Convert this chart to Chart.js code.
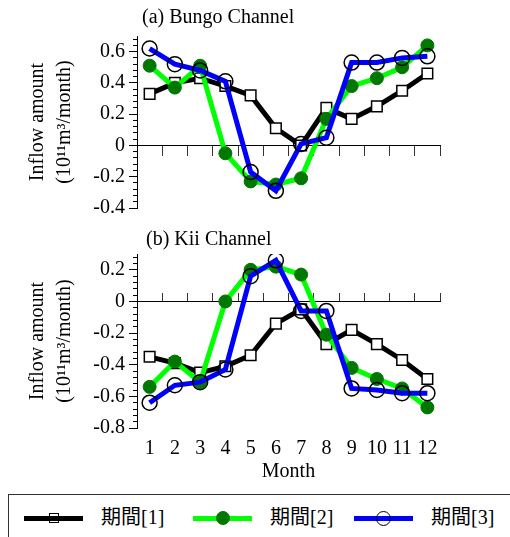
<!DOCTYPE html>
<html>
<head>
<meta charset="utf-8">
<script src="https://cdn.jsdelivr.net/npm/chart.js@4.4.1/dist/chart.umd.min.js"></script>
<style>
  body { margin: 0; background: #fff; width: 510px; height: 537px; overflow: hidden; position: relative; }
  canvas { position: absolute; left: 0; }
  #legend { position: absolute; left: 8px; top: 494px; width: 530px; height: 60px; border: 1px solid #333; }
  .ln { position: absolute; height: 5px; }
  .mk { position: absolute; box-sizing: border-box; }
  .lt { position: absolute; font: 20px "Liberation Serif", "Noto Sans CJK JP", serif; line-height: 20px; color: #000; }
</style>
</head>
<body>
<canvas id="bungoChart" width="510" height="228" style="top:0"></canvas>
<canvas id="kiiChart" width="510" height="262" style="top:228px"></canvas>
<div id="legend"></div>
<script>
// data
var months = ['1', '2', '3', '4', '5', '6', '7', '8', '9', '10', '11', '12'];
var seriesNames = ['期間[1]', '期間[2]', '期間[3]'];

var bungoP1 = [0.33, 0.40, 0.43, 0.38, 0.32, 0.11, 0.00, 0.24, 0.17, 0.25, 0.35, 0.46];
var bungoP2 = [0.51, 0.37, 0.51, -0.05, -0.23, -0.25, -0.21, 0.17, 0.38, 0.43, 0.50, 0.64];
var bungoP3 = [0.62, 0.52, 0.48, 0.41, -0.17, -0.29, 0.01, 0.05, 0.53, 0.53, 0.56, 0.57];

var kiiP1 = [-0.35, -0.39, -0.45, -0.41, -0.34, -0.14, -0.05, -0.27, -0.18, -0.27, -0.37, -0.49];
var kiiP2 = [-0.54, -0.38, -0.51, 0.00, 0.20, 0.22, 0.17, -0.21, -0.42, -0.49, -0.55, -0.67];
var kiiP3 = [-0.64, -0.53, -0.51, -0.43, 0.16, 0.26, -0.06, -0.06, -0.55, -0.56, -0.58, -0.58];

var FONT = 'Liberation Serif';

// panel heading drawn just above the plot
var panelLabel = {
  id: 'panelLabel',
  afterDraw: function (chart, args, opts) {
    var ctx = chart.ctx;
    ctx.save();
    ctx.font = '20px "' + FONT + '"';
    ctx.fillStyle = '#000';
    ctx.textBaseline = 'middle';
    ctx.fillText(opts.text, chart.chartArea.left + opts.dx, chart.chartArea.top - opts.dy);
    ctx.restore();
  }
};

// ticks on every multiple of step inside the axis range (no extra tick at min/max)
function stepTicks(step) {
  return function (scale) {
    var lo = Math.ceil(scale.min / step - 1e-6);
    var hi = Math.floor(scale.max / step + 1e-6);
    var ticks = [];
    for (var k = lo; k <= hi; k++) ticks.push({ value: Math.round(k * step * 1000) / 1000 });
    scale.ticks = ticks;
  };
}

function makeDatasets(p1, p2, p3) {
  return [{
    label: seriesNames[0], data: p1, order: 2,
    borderColor: '#000', borderWidth: 5,
    pointStyle: 'rect', pointRadius: 7.5,
    pointBackgroundColor: '#fff', pointBorderColor: '#000', pointBorderWidth: 1.5
  }, {
    label: seriesNames[1], data: p2, order: 1,
    borderColor: '#00ff00', borderWidth: 5,
    pointStyle: 'circle', pointRadius: 6.5,
    pointBackgroundColor: '#007800', pointBorderColor: '#007800', pointBorderWidth: 1
  }, {
    label: seriesNames[2], data: p3, order: 0,
    borderColor: '#0000ff', borderWidth: 5,
    pointStyle: 'circle', pointRadius: 7.5,
    pointBackgroundColor: 'rgba(0,0,0,0)', pointBorderColor: '#000', pointBorderWidth: 1.5
  }];
}

function makeScales(yMin, yMax, tickLen, showMonths) {
  var scales = {
    x: {
      type: 'category', position: { y: 0 }, offset: true,
      ticks: { display: false },
      grid: { display: true, drawOnChartArea: false, offset: true, drawTicks: true, tickLength: tickLen, tickColor: '#333', tickWidth: 1 },
      border: { display: true, color: '#000', width: 1 }
    },
    y: {
      type: 'linear', position: 'left', min: yMin, max: yMax,
      afterBuildTicks: stepTicks(0.2),
      afterFit: function (s) { s.width = 137; },
      ticks: { autoSkip: false, color: '#000', padding: 4, font: { family: FONT, size: 20 } },
      grid: { drawOnChartArea: false, tickLength: 8, tickColor: '#000', tickWidth: 1 },
      border: { display: true, color: '#000', width: 1 },
      title: {
        display: true, text: ['Inflow amount', '(10¹¹m³/month)'], color: '#000',
        font: { family: FONT, size: 20, lineHeight: 1.35 }, padding: { top: 24, bottom: 0 }
      }
    },
    ym: {
      type: 'linear', position: { x: -0.5 }, min: yMin, max: yMax,
      afterBuildTicks: stepTicks(0.04),
      ticks: { autoSkip: false, display: false },
      grid: { drawOnChartArea: false, tickLength: 4, tickColor: '#000', tickWidth: 1 },
      border: { display: false }
    }
  };
  if (showMonths) {
    scales.xl = {
      type: 'category', position: 'bottom', offset: true,
      grid: { display: false, drawTicks: false },
      border: { display: false },
      ticks: { autoSkip: false, maxRotation: 0, color: '#000', padding: 9, font: { family: FONT, size: 20 } },
      title: { display: true, text: 'Month', color: '#000', padding: 0, font: { family: FONT, size: 20, lineHeight: 0.2 } }
    };
  }
  return scales;
}

function makeChart(id, p1, p2, p3, yMin, yMax, tickLen, showMonths, heading, pad, dx, dy) {
  return new Chart(document.getElementById(id).getContext('2d'), {
    type: 'line',
    data: { labels: months, datasets: makeDatasets(p1, p2, p3) },
    options: {
      responsive: false,
      animation: false,
      layout: { padding: pad },
      elements: { line: { tension: 0 } },
      scales: makeScales(yMin, yMax, tickLen, showMonths),
      plugins: {
        legend: { display: false },
        tooltip: { enabled: false },
        panelLabel: { text: heading, dx: dx, dy: dy }
      }
    },
    plugins: [panelLabel]
  });
}

// (a) Bungo Channel
var bungoChart = makeChart('bungoChart', bungoP1, bungoP2, bungoP3, -0.4, 0.7, 10, false,
  '(a) Bungo Channel', { left: 0, right: 70, top: 36, bottom: 20 }, 5, 18);

// (b) Kii Channel
var kiiChart = makeChart('kiiChart', kiiP1, kiiP2, kiiP3, -0.8, 0.3, -9, true,
  '(b) Kii Channel', { left: 0, right: 70, top: 26, bottom: 16 }, 9, 14);

// legend
var legendStyle = [
  { line: '#000', x: 15, shape: 'sq', fill: 'transparent', stroke: '#000', size: 10 },
  { line: '#00ff00', x: 184, shape: 'ci', fill: '#007800', stroke: '#007800', size: 14 },
  { line: '#0000ff', x: 345, shape: 'ci', fill: 'transparent', stroke: '#000', size: 15 }
];
var legend = document.getElementById('legend');
seriesNames.forEach(function (name, i) {
  var st = legendStyle[i];
  var cy = 23;
  var ln = document.createElement('div');
  ln.className = 'ln';
  ln.style.cssText = 'left:' + st.x + 'px;top:' + (cy - 2.5) + 'px;width:59px;background:' + st.line;
  legend.appendChild(ln);
  var mk = document.createElement('div');
  mk.className = 'mk';
  mk.style.cssText = 'left:' + (st.x + 29.5 - st.size / 2) + 'px;top:' + (cy - st.size / 2) + 'px;width:' + st.size +
    'px;height:' + st.size + 'px;background:' + st.fill + ';border:1.5px solid ' + st.stroke +
    (st.shape === 'ci' ? ';border-radius:50%' : '');
  legend.appendChild(mk);
  var lt = document.createElement('div');
  lt.className = 'lt';
  lt.style.cssText = 'left:' + (st.x + 77) + 'px;top:' + (cy - 11) + 'px';
  lt.textContent = name;
  legend.appendChild(lt);
});
</script>
</body>
</html>
